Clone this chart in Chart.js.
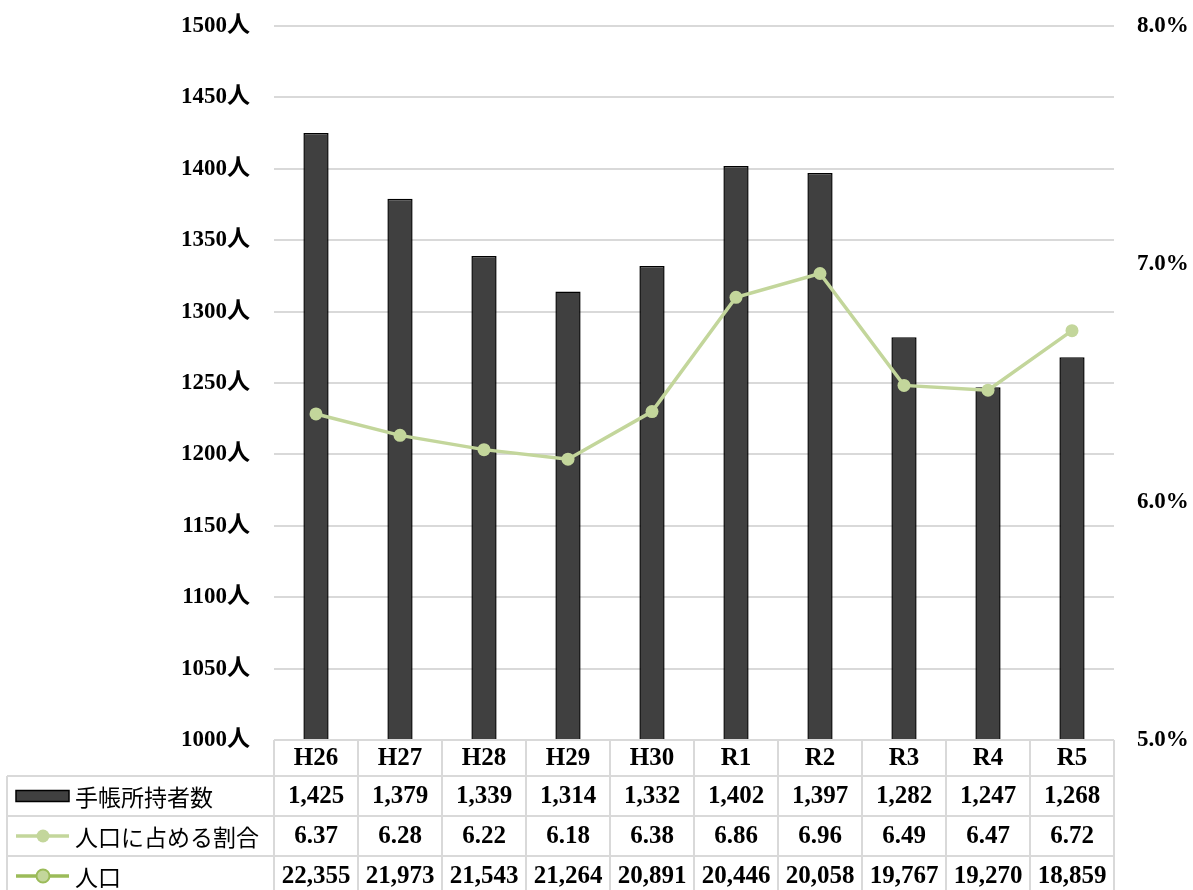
<!DOCTYPE html>
<html>
<head>
<meta charset="utf-8">
<script src="https://cdn.jsdelivr.net/npm/chart.js@4.4.1/dist/chart.umd.min.js"></script>
<style>
  html, body { margin: 0; padding: 0; background: #fff; }
  #wrap { width: 1193px; height: 890px; position: relative; }
</style>
</head>
<body>
<div id="wrap"><canvas id="chart"></canvas></div>
<script>
const years = ['H26', 'H27', 'H28', 'H29', 'H30', 'R1', 'R2', 'R3', 'R4', 'R5'];
const holders = [1425, 1379, 1339, 1314, 1332, 1402, 1397, 1282, 1247, 1268];
const ratio = [6.37, 6.28, 6.22, 6.18, 6.38, 6.86, 6.96, 6.49, 6.47, 6.72];
const population = [22355, 21973, 21543, 21264, 20891, 20446, 20058, 19767, 19270, 18859];

const SERIF = "'Liberation Serif', 'Noto Sans CJK JP', serif";
const JP = "'Noto Sans CJK JP', sans-serif";
const GRID = '#d9d9d9';
const BAR_FILL = '#404040';
const LINE_GREEN = '#c3d69b';
const POP_GREEN = '#9bbb59';

const fmt = n => n.toLocaleString('en-US');

// data table under the plot, columns follow the x scale
const dataTable = {
  id: 'dataTable',
  afterDraw(chart) {
    const ctx = chart.ctx;
    const x = chart.scales.x;
    const area = chart.chartArea;
    const colW = (area.right - area.left) / years.length;
    const top = area.bottom;
    const headH = 36, rowH = 40;
    const tableLeft = 7;

    ctx.save();
    ctx.strokeStyle = GRID;
    ctx.lineWidth = 2;
    ctx.beginPath();
    ctx.moveTo(area.left, top);
    ctx.lineTo(area.right, top);
    for (let i = 0; i <= years.length; i++) {
      const lx = area.left + i * colW;
      ctx.moveTo(lx, top);
      ctx.lineTo(lx, top + headH + rowH * 3);
    }
    for (let r = 0; r <= 3; r++) {
      const ly = top + headH + r * rowH;
      ctx.moveTo(tableLeft, ly);
      ctx.lineTo(area.right, ly);
    }
    ctx.moveTo(tableLeft, top + headH);
    ctx.lineTo(tableLeft, top + headH + rowH * 3);
    ctx.stroke();

    ctx.fillStyle = '#000';
    ctx.font = 'bold 25px ' + SERIF;
    ctx.textAlign = 'center';
    ctx.textBaseline = 'middle';
    const rows = [holders.map(fmt), ratio.map(v => v.toFixed(2)), population.map(fmt)];
    years.forEach((y, i) => {
      const cx = x.getPixelForValue(i);
      ctx.fillText(y, cx, top + headH / 2 + 1);
      rows.forEach((r, k) => {
        ctx.fillText(r[i], cx, top + headH + rowH * k + rowH / 2 + 1);
      });
    });

    // legend keys
    const yc = k => top + headH + rowH * k + rowH / 2;
    ctx.fillStyle = BAR_FILL;
    ctx.strokeStyle = '#000';
    ctx.lineWidth = 1.5;
    ctx.fillRect(16, yc(0) - 5.5, 53, 11);
    ctx.strokeRect(16, yc(0) - 5.5, 53, 11);

    ctx.strokeStyle = LINE_GREEN;
    ctx.lineWidth = 3.5;
    ctx.beginPath();
    ctx.moveTo(16, yc(1));
    ctx.lineTo(69, yc(1));
    ctx.stroke();
    ctx.fillStyle = LINE_GREEN;
    ctx.beginPath();
    ctx.arc(43, yc(1), 6.5, 0, Math.PI * 2);
    ctx.fill();

    ctx.strokeStyle = POP_GREEN;
    ctx.beginPath();
    ctx.moveTo(16, yc(2));
    ctx.lineTo(69, yc(2));
    ctx.stroke();
    ctx.fillStyle = LINE_GREEN;
    ctx.lineWidth = 2;
    ctx.beginPath();
    ctx.arc(43, yc(2), 6.5, 0, Math.PI * 2);
    ctx.fill();
    ctx.stroke();

    ctx.fillStyle = '#000';
    ctx.font = '23px ' + JP;
    ctx.textAlign = 'left';
    const labels = ['手帳所持者数', '人口に占める割合', '人口'];
    labels.forEach((t, k) => ctx.fillText(t, 75, yc(k) + 1));
    ctx.restore();
  }
};

new Chart(document.getElementById('chart'), {
  data: {
    labels: years,
    datasets: [
      {
        type: 'line',
        label: '人口に占める割合',
        data: ratio,
        yAxisID: 'y1',
        borderColor: LINE_GREEN,
        backgroundColor: LINE_GREEN,
        borderWidth: 3.5,
        pointRadius: 6.5,
        pointBorderWidth: 0,
        tension: 0,
        order: 0
      },
      {
        type: 'bar',
        label: '手帳所持者数',
        data: holders,
        yAxisID: 'y',
        backgroundColor: BAR_FILL,
        borderColor: '#000',
        borderWidth: 1.5,
        categoryPercentage: 1,
        barPercentage: 0.3,
        order: 1
      }
    ]
  },
  options: {
    responsive: true,
    maintainAspectRatio: false,
    animation: false,
    layout: { autoPadding: false, padding: { top: 26, bottom: 150, left: 0, right: 0 } },
    plugins: {
      legend: { display: false },
      tooltip: { enabled: false }
    },
    scales: {
      x: { display: false },
      y: {
        position: 'left',
        min: 1000,
        max: 1500,
        afterFit: s => { s.width = 274; },
        border: { display: false },
        // invisible tick marks push the labels away from the plot
        grid: { color: GRID, lineWidth: 2, drawTicks: true, tickLength: 24, tickColor: 'rgba(0,0,0,0)' },
        ticks: {
          stepSize: 50,
          padding: 0,
          color: '#000',
          font: { family: SERIF, size: 23, weight: 'bold' },
          callback: v => v + '人'
        }
      },
      y1: {
        position: 'right',
        min: 5,
        max: 8,
        afterFit: s => { s.width = 79; },
        border: { display: false },
        grid: { drawOnChartArea: false, drawTicks: true, tickLength: 23, tickColor: 'rgba(0,0,0,0)' },
        ticks: {
          stepSize: 1,
          padding: 0,
          color: '#000',
          font: { family: SERIF, size: 23, weight: 'bold' },
          callback: v => v.toFixed(1) + '%'
        }
      }
    }
  },
  plugins: [dataTable]
});
</script>
</body>
</html>
